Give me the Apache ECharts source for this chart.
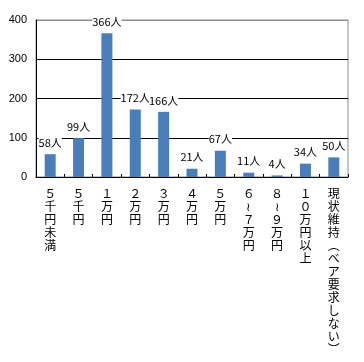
<!DOCTYPE html>
<html><head><meta charset="utf-8">
<script src="https://cdn.jsdelivr.net/npm/echarts@6/dist/echarts.min.js"></script>
<style>html,body{margin:0;padding:0;background:#fff}#c{width:364px;height:362px}</style>
</head><body><div id="c"></div>
<script>
var categories = ["５千円未満","５千円","１万円","２万円","３万円","４万円","５万円","６≀７万円","８≀９万円","１０万円以上","現状維持︵ベア要求しない︶"];
var values = [58, 99, 366, 172, 166, 21, 67, 11, 4, 34, 50];
var yTicks = {min: 0, max: 400, interval: 100};

var chart = echarts.init(document.getElementById('c'));
chart.setOption({
  animation: false,
  backgroundColor: '#fff',
  grid: {left: 36, right: 16, top: 20, bottom: 185, show: true, borderColor: '#8c8c8c', borderWidth: 1},
  xAxis: {
    type: 'category', data: categories,
    axisLine: {lineStyle: {color: '#000', width: 1}},
    axisTick: {show: true, inside: true, length: 3, lineStyle: {color: '#000'}},
    axisLabel: {
      interval: 0, margin: 10, color: '#000', fontSize: 12, lineHeight: 13,
      fontFamily: 'Noto Sans CJK JP',
      formatter: function (v) { return v.split('').join('\n'); }
    }
  },
  yAxis: {
    type: 'value', min: yTicks.min, max: yTicks.max, interval: yTicks.interval,
    axisLine: {show: true, lineStyle: {color: '#000'}},
    axisTick: {show: false},
    axisLabel: {color: '#000', fontSize: 11, margin: 9, fontFamily: 'Liberation Sans'},
    splitLine: {show: true, lineStyle: {color: ['#000', '#000', '#000', '#000', '#8c8c8c'], width: 1}}
  },
  series: [{
    type: 'bar', data: values, barWidth: 11,
    itemStyle: {color: '#4a7ebb'},
    label: {
      show: true, position: 'top', distance: 5,
      formatter: '{c}人', color: '#000', fontSize: 11,
      fontFamily: 'Noto Sans CJK JP',
      backgroundColor: '#fff', padding: [1, 0]
    }
  }]
});
</script></body></html>
